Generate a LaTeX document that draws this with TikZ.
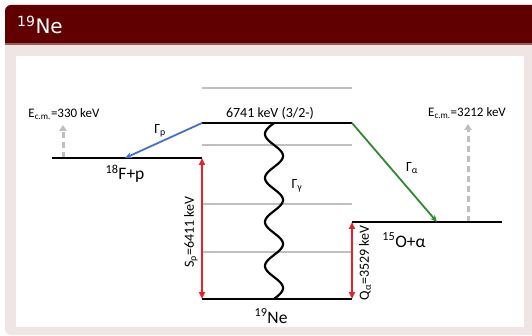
\documentclass[tikz,border=0pt]{standalone}
\usepackage{fontspec}
\setmainfont{Carlito}
\newfontfamily\titlefont{DejaVu Sans}
\usetikzlibrary{arrows.meta}
\definecolor{titlered}{HTML}{600000}
\definecolor{framepink}{HTML}{EEE5E4}
\definecolor{levelgray}{HTML}{BFBFBF}
\definecolor{arrred}{HTML}{E8202A}
\definecolor{arrblue}{HTML}{4472C4}
\definecolor{arrgreen}{HTML}{2E8B2E}
\begin{document}
\begin{tikzpicture}[x=1pt,y=-1pt,
  level/.style={line width=1.8pt,black},
  glevel/.style={line width=1.3pt,levelgray},
  lbl/.style={inner sep=0pt,font=\fontsize{14}{16}\selectfont},
  biglbl/.style={inner sep=0pt,font=\fontsize{17.5}{19}\selectfont},
  redarr/.style={line width=1.8pt,arrred,{Triangle[length=7pt,width=6pt]}-{Triangle[length=7pt,width=6pt]}},
  grayarr/.style={line width=3pt,levelgray,dash pattern=on 6pt off 4pt,-{Triangle[length=6pt,width=7.5pt]}},
  decarr/.style={line width=1.8pt,-{Stealth[length=7pt,width=6pt]}},
  wave/.style={line width=2.2pt,black},
]
\useasboundingbox (0,0) rectangle (532,336);
% frame
\fill[framepink,rounded corners=6pt] (5,5) rectangle (540,335);
\fill[titlered,rounded corners=6pt] (5,5) rectangle (540,30);
\fill[titlered] (5,20) rectangle (540,43);
\fill[titlered!60!framepink] (5,43) rectangle (540,45);
\fill[white] (16,56) rectangle (524,327);
\node[anchor=base west,inner sep=0pt,text=white,font=\titlefont\fontsize{20}{22}\selectfont] (title) at (17,34) {\textsuperscript{19}Ne};

% coordinates
\coordinate (t1) at (202,123); \coordinate (t2) at (352,123);
\coordinate (f1) at (52,158); \coordinate (f2) at (202,158);
\coordinate (o1) at (352,222); \coordinate (o2) at (502,222);
\coordinate (n1) at (202,299); \coordinate (n2) at (352,299);
\coordinate (g1a) at (202,88); \coordinate (g1b) at (352,88);
\coordinate (g2a) at (202,145); \coordinate (g2b) at (352,145);
\coordinate (g3a) at (202,204); \coordinate (g3b) at (352,204);
\coordinate (g4a) at (202,252); \coordinate (g4b) at (352,252);
\coordinate (ptip) at (125,158);
\coordinate (atip) at (437,222);
\coordinate (e1a) at (63,158); \coordinate (e1b) at (63,125);
\coordinate (e2a) at (468,222); \coordinate (e2b) at (468,124);

% gray levels
\draw[glevel] (g1a) -- (g1b);
\draw[glevel] (g2a) -- (g2b);
\draw[glevel] (g3a) -- (g3b);
\draw[glevel] (g4a) -- (g4b);

% dashed arrows
\draw[grayarr] (e1a) -- (e1b);
\draw[grayarr] (e2a) -- (e2b);

% levels
\draw[level] (t1) -- (t2);
\draw[level] (f1) -- (f2);
\draw[level] (o1) -- (o2);
\draw[level] (n1) -- (n2);

% wave (gamma decay, top level to ground state)
\draw[wave,line cap=round] plot[domain=0:176,samples=140,smooth] ({274-9*sin(8.1818*\x)},{123+\x});

% decays
\draw[decarr,arrblue] (t1) -- (ptip);
\draw[decarr,arrgreen] (t2) -- (atip);

% red arrows
\draw[redarr] (f2) -- (n1);
\draw[redarr] (o1) -- (n2);

% labels
\node[lbl] (lev) at (270,113) {6741 keV (3/2-)};
\node[lbl,font=\fontsize{13}{15}\selectfont] (ec1) at (64,114) {E\textsubscript{c.m.}=330 keV};
\node[lbl,font=\fontsize{13}{15}\selectfont] (ec2) at (467,113) {E\textsubscript{c.m.}=3212 keV};
\node[lbl] (gp) at (160,131) {Γ\textsubscript{p}};
\node[lbl] (ga) at (412,168) {Γ\textsubscript{α}};
\node[lbl] (gg) at (297,186) {Γ\textsubscript{γ}};
\node[biglbl] (fp) at (125,174) {\textsuperscript{18}F+p};
\node[biglbl] (oa) at (404,240) {\textsuperscript{15}O+α};
\node[biglbl] (ne) at (271,316) {\textsuperscript{19}Ne};
\node[lbl,rotate=90] (sp) at (191,232) {S\textsubscript{p}=6411 keV};
\node[lbl,rotate=90] (qa) at (365,263) {Q\textsubscript{α}=3529 keV};
\end{tikzpicture}
\end{document}
